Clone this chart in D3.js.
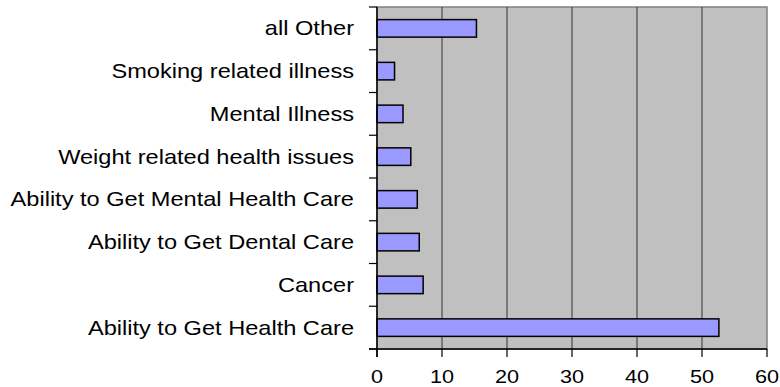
<!DOCTYPE html>
<html>
<head>
<meta charset="utf-8">
<script src="https://cdn.jsdelivr.net/npm/d3@7"></script>
<style>
  html, body { margin: 0; padding: 0; background: #ffffff; }
  svg { display: block; }
  text { font-family: "Liberation Sans", Arial, sans-serif; fill: #000; }
</style>
</head>
<body>
<svg id="chart" width="780" height="387"></svg>
<script>
// Categories listed top to bottom
const categories = [
  "all Other",
  "Smoking related illness",
  "Mental Illness",
  "Weight related health issues",
  "Ability to Get Mental Health Care",
  "Ability to Get Dental Care",
  "Cancer",
  "Ability to Get Health Care"
];
const values = [15.3, 2.7, 4.0, 5.2, 6.2, 6.5, 7.1, 52.6];
const xTicks = [0, 10, 20, 30, 40, 50, 60];

const svg = d3.select("#chart");
const plot = { left: 377, right: 767, top: 7, bottom: 349 };

const x = d3.scaleLinear().domain([0, 60]).range([plot.left, plot.right]);
const y = d3.scaleBand().domain(categories).range([plot.top, plot.bottom]).paddingInner(0.59).paddingOuter(0.295);
const yOuter = d3.scaleBand().domain(categories).range([plot.top, plot.bottom]);

// plot background
svg.append("rect")
  .attr("x", plot.left).attr("y", plot.top)
  .attr("width", plot.right - plot.left).attr("height", plot.bottom - plot.top)
  .attr("fill", "#c0c0c0")
  .attr("stroke", "#808080").attr("stroke-width", 1.5);

// vertical gridlines
svg.append("g").selectAll("line")
  .data(xTicks.filter(d => d > 0 && d < 60))
  .join("line")
  .attr("x1", d => x(d)).attr("x2", d => x(d))
  .attr("y1", plot.top).attr("y2", plot.bottom)
  .attr("stroke", "#333").attr("stroke-width", 1);

// bars
svg.append("g").selectAll("rect")
  .data(categories.map((c, i) => ({ c, v: values[i] })))
  .join("rect")
  .attr("x", x(0))
  .attr("y", d => y(d.c))
  .attr("width", d => x(d.v) - x(0))
  .attr("height", y.bandwidth())
  .attr("fill", "#9999ff")
  .attr("stroke", "#000").attr("stroke-width", 1.5);

// y axis line and category boundary ticks
const yAxis = svg.append("g");
yAxis.append("line")
  .attr("x1", plot.left).attr("x2", plot.left)
  .attr("y1", plot.top).attr("y2", plot.bottom + 8)
  .attr("stroke", "#000").attr("stroke-width", 1.5);
const bounds = categories.map(c => yOuter(c)).concat([plot.bottom]);
yAxis.selectAll("line.tk").data(bounds).join("line")
  .attr("class", "tk")
  .attr("x1", plot.left - 8).attr("x2", plot.left)
  .attr("y1", d => d).attr("y2", d => d)
  .attr("stroke", "#000").attr("stroke-width", 1.2);
yAxis.selectAll("text").data(categories).join("text")
  .attr("transform", d => `translate(354,${yOuter(d) + yOuter.bandwidth() / 2}) scale(1.18,1)`)
  .attr("dy", "0.35em")
  .attr("text-anchor", "end")
  .attr("font-size", 20)
  .text(d => d);

// x axis
const xAxis = svg.append("g");
xAxis.append("line")
  .attr("x1", plot.left - 8).attr("x2", plot.right)
  .attr("y1", plot.bottom).attr("y2", plot.bottom)
  .attr("stroke", "#000").attr("stroke-width", 1.5);
xAxis.selectAll("line.tk").data(xTicks).join("line")
  .attr("class", "tk")
  .attr("x1", d => x(d)).attr("x2", d => x(d))
  .attr("y1", plot.bottom).attr("y2", plot.bottom + 8)
  .attr("stroke", "#000").attr("stroke-width", 1.2);
xAxis.selectAll("text").data(xTicks).join("text")
  .attr("transform", d => `translate(${x(d)},376) scale(1.14,1)`)
  .attr("dy", "0.35em")
  .attr("text-anchor", "middle")
  .attr("font-size", 19)
  .text(d => d);
</script>
</body>
</html>
